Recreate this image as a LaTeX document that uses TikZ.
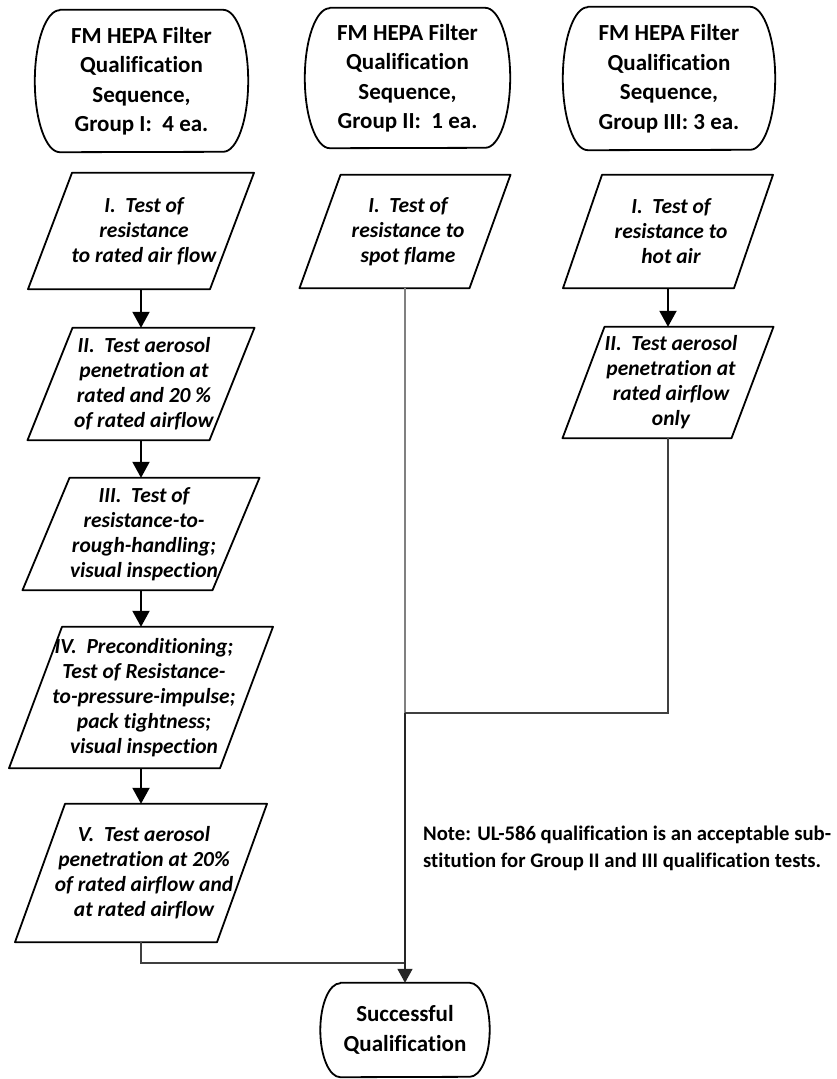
\documentclass[tikz,border=0pt]{standalone}
\usepackage{fontspec}
\setmainfont{Carlito}[Ligatures=CommonOff]
\usetikzlibrary{arrows.meta}
\tikzset{
  shapeline/.style={line width=1.8pt, line join=round},
  termtext/.style={inner sep=0pt, align=center, font=\fontsize{23}{29.5}\selectfont\bfseries},
  parabox/.style={inner sep=0pt},
  paratext/.style={inner sep=0pt, align=center, xshift=3pt, font=\fontsize{21.5}{25}\selectfont\bfseries\itshape},
  notetext/.style={inner sep=0pt, anchor=base west, font=\fontsize{20.7}{27}\selectfont\bfseries},
  arrowline/.style={line width=2pt, -{Triangle[length=16pt,width=17pt]}},
  conn/.style={line width=1.2pt, black!75},
  connlight/.style={line width=1.2pt, black!50},
  finarrow/.style={line width=1.5pt, black!85, -{Triangle[length=14pt,width=15pt]}}
}
\newcommand{\termnode}[7]{%
  \node[termtext, minimum width=#4pt, minimum height={2*#5pt}] (#1) at (#2,#3) {#7};
  \draw[shapeline] ([xshift=#6pt]#1.north west) -- ([xshift=-#6pt]#1.north east)
    arc[start angle=90, end angle=-90, x radius=#6pt, y radius=#5pt]
    -- ([xshift=#6pt]#1.south west)
    arc[start angle=270, end angle=90, x radius=#6pt, y radius=#5pt] -- cycle;
}
\newcommand{\paranode}[7]{%
  \node[parabox, minimum width=#4pt, minimum height=#5pt, label={[paratext]center:{#7}}] (#1) at (#2,#3) {};
  \draw[shapeline] ([xshift={(-#4+#6)/2*1pt}]#1.north) -- ([xshift={(#4+#6)/2*1pt}]#1.north)
    -- ([xshift={(#4-#6)/2*1pt}]#1.south) -- ([xshift={(-#4-#6)/2*1pt}]#1.south) -- cycle;
}
\begin{document}
\begin{tikzpicture}[x=1pt, y=-1pt]
\useasboundingbox (0,0) rectangle (837,1079);
% start terminators
\termnode{t1}{141.5}{81}{213}{71}{25}{FM HEPA Filter\\Qualification\\Sequence,\\Group I:\ \ 4 ea.}
\termnode{t2}{407.5}{78}{205}{70}{25}{FM HEPA Filter\\Qualification\\Sequence,\\Group II:\ \ 1 ea.}
\termnode{t3}{669}{78.5}{212}{71.5}{25}{FM HEPA Filter\\Qualification\\Sequence,\\Group III: 3 ea.}
% group I
\paranode{g1a}{141}{231}{182}{116}{44}{I.\ \ Test of\\resistance\\to rated air flow}
\paranode{g1b}{141}{384}{182}{112}{45}{II.\ \ Test aerosol\\penetration at\\rated and 20 \%\\of rated airflow}
\paranode{g1c}{141}{534}{190}{112}{47}{III.\ \ Test of\\resistance-to-\\rough-handling;\\visual inspection}
\paranode{g1d}{141}{697.5}{211}{141}{53}{IV.\ \ Preconditioning;\\Test of Resistance-\\to-pressure-impulse;\\pack tightness;\\visual inspection}
\paranode{g1e}{141}{873}{202}{138}{50}{V.\ \ Test aerosol\\penetration at 20\%\\of rated airflow and\\at rated airflow}
% group II
\paranode{g2a}{405}{231.5}{170}{113}{41}{I.\ \ Test of\\resistance to\\spot flame}
% group III
\paranode{g3a}{668}{231.5}{171}{113}{39}{I.\ \ Test of\\resistance to\\hot air}
\paranode{g3b}{668}{382.5}{169}{111}{42}{II.\ \ Test aerosol\\penetration at\\rated airflow\\only}
% final
\termnode{fin}{405}{1030}{169}{47}{20}{Successful\\Qualification}
% note
\node[notetext] (note1) at (423,840) {Note: UL-586 qualification is an acceptable sub-};
\node[notetext] (note2) at (423,867) {stitution for Group II and III qualification tests.};
% connectors
\draw[arrowline] (g1a.south) -- (g1b.north);
\draw[arrowline] (g1b.south) -- (g1c.north);
\draw[arrowline] (g1c.south) -- (g1d.north);
\draw[arrowline] (g1d.south) -- (g1e.north);
\draw[arrowline] (g3a.south) -- (g3b.north);
\coordinate (j3) at (405,713);
\coordinate (j1) at (405,963);
\draw[connlight] (g2a.south) -- (j3);
\draw[conn] (g3b.south) |- (j3);
\draw[conn] (g1e.south) |- (j1);
\draw[finarrow] (j3) -- (fin.north);
\end{tikzpicture}
\end{document}
